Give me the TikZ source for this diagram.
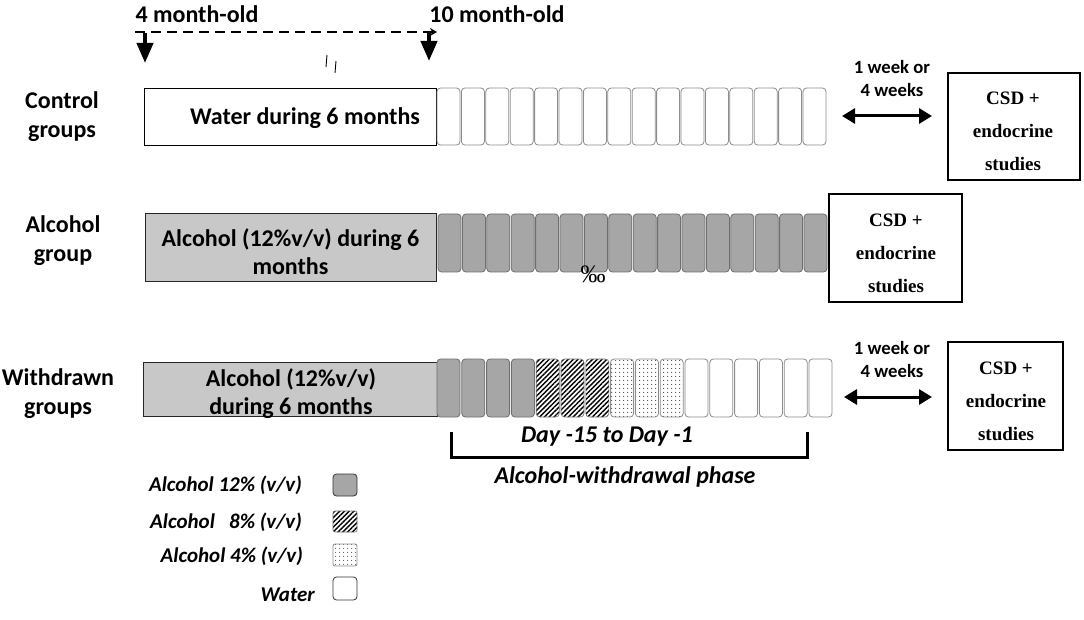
\documentclass[tikz,border=0pt]{standalone}
\usepackage{fontspec}
\setmainfont{Carlito}
\newfontfamily\tnr{Liberation Serif}
\usetikzlibrary{arrows.meta,patterns.meta}
\definecolor{cellgray}{HTML}{A6A6A6}
\definecolor{cellborder}{HTML}{6E6E6E}
\definecolor{boxgray}{HTML}{C8C8C8}
\definecolor{wborder}{HTML}{8C8C8C}
\tikzset{
  lbl/.style={font=\bfseries\fontsize{24}{29}\selectfont, align=center, inner sep=0},
  boxtxt/.style={font=\bfseries\fontsize{24}{28}\selectfont, align=center, inner sep=0},
  small/.style={font=\bfseries\fontsize{18.7}{23}\selectfont, align=center, inner sep=0},
  leg/.style={font=\bfseries\itshape\fontsize{21}{24}\selectfont, inner sep=0, anchor=east},
  csd/.style={draw, line width=1.2pt, inner sep=0},
  csdtxt/.style={font=\tnr\bfseries\fontsize{19}{33}\selectfont, align=center, inner sep=0},
  bigbox/.style={draw, line width=1pt, inner sep=0},
  wcell/.style={draw=wborder, fill=white, rounded corners=3.5pt, minimum width=23pt, inner sep=0, line width=0.8pt},
  gcell/.style={draw=cellborder, fill=cellgray, rounded corners=3.5pt, minimum width=23pt, inner sep=0, line width=0.8pt},
  hcell/.style={draw=cellborder, rounded corners=3.5pt, minimum width=23pt, inner sep=0, line width=0.6pt,
     pattern={Lines[angle=45,distance=3.4pt,line width=1.4pt]}, pattern color=black},
  dcell/.style={draw=wborder, rounded corners=3.5pt, minimum width=23pt, inner sep=0, line width=0.8pt,
     pattern={Dots[radius=0.6pt,distance=4pt]}, pattern color=black},
  downarrow/.style={line width=4pt, -{Triangle[length=20pt,width=16pt]}},
  dblarrow/.style={line width=3pt, {Triangle[length=13pt,width=15pt]}-{Triangle[length=13pt,width=15pt]}},
  ital/.style={font=\bfseries\itshape\fontsize{24}{28}\selectfont, inner sep=0},
}
\begin{document}
\begin{tikzpicture}[x=1pt,y=-1pt]
\useasboundingbox[fill=white] (0,0) rectangle (1084,620);

% timeline
\node[lbl] (t4) at (197,14) {4 month-old};
\node[lbl] (t10) at (497,14) {10 month-old};
\coordinate (da1) at (135,32);
\coordinate (da2) at (437,32);
\draw[line width=2.5pt, dash pattern=on 10pt off 6pt, -{Stealth[length=7pt,width=8pt]}] (da1) -- (da2);
\coordinate (d1s) at (145,33); \coordinate (d1e) at (145,63);
\coordinate (d2s) at (429,33); \coordinate (d2e) at (429,61);
\draw[downarrow] (d1s) -- (d1e);
\draw[downarrow] (d2s) -- (d2e);
\coordinate (m1a) at (327,55); \coordinate (m1b) at (326,67);
\coordinate (m2a) at (336,61); \coordinate (m2b) at (335,73);
\draw[line width=0.9pt] (m1a) -- (m1b);
\draw[line width=0.9pt] (m2a) -- (m2b);

% row labels
\node[lbl] (lc) at (62,117) {Control\\groups};
\node[lbl] (la) at (63,241) {Alcohol\\group};
\node[lbl] (lw) at (58,394) {Withdrawn\\groups};

% control row
\node[bigbox, minimum width=292pt, minimum height=57pt] (bc) at (290,117) {};
\node[lbl] (bct) at (305,118) {Water during 6 months};
\foreach \i in {0,...,15} {
  \node[wcell, minimum height=57pt] (c1-\i) at ({448.5+24.4*\i},116.5) {};
}
\coordinate (a1l) at (842,116); \coordinate (a1r) at (932,116);
\draw[dblarrow] (a1l) -- (a1r);
\node[small] (w1) at (892,79) {1 week or\\4 weeks};
\node[csd, minimum width=132pt, minimum height=107pt] (csd1) at (1014,126.5) {};
\node[csdtxt] (csd1t) at (1013,131) {CSD +\\endocrine\\studies};

% alcohol row
\node[bigbox, fill=boxgray, draw=black!85, minimum width=291pt, minimum height=68pt] (ba) at (290.5,248) {};
\node[boxtxt] (bat) at (290.5,251.5) {Alcohol (12\%v/v) during 6\\months};
\foreach \i in {0,...,15} {
  \node[gcell, minimum height=58pt] (c2-\i) at ({449.5+24.4*\i},243) {};
}
\node[font=\tnr\fontsize{25}{26}\selectfont, inner sep=0] (pm) at (593,274) {‰};
\node[csd, minimum width=133pt, minimum height=108pt] (csd2) at (895.5,248) {};
\node[csdtxt] (csd2t) at (896,253) {CSD +\\endocrine\\studies};

% withdrawn row
\node[bigbox, fill=boxgray, draw=black!85, minimum width=294pt, minimum height=54pt] (bw) at (290,389) {};
\node[boxtxt] (bwt) at (291,393.5) {Alcohol (12\%v/v)\\during 6 months};
\foreach \i in {0,...,3} {
  \node[gcell, minimum height=58pt] (c3-\i) at ({448.5+24.8*\i},388) {};
}
\foreach \i in {4,...,6} {
  \node[hcell, minimum height=58pt] (c3-\i) at ({448.5+24.8*\i},388) {};
}
\foreach \i in {7,...,9} {
  \node[dcell, minimum height=58pt] (c3-\i) at ({448.5+24.8*\i},388) {};
}
\foreach \i in {10,...,15} {
  \node[wcell, minimum height=58pt] (c3-\i) at ({448.5+24.8*\i},388) {};
}
\coordinate (a3l) at (844,397); \coordinate (a3r) at (932,397);
\draw[dblarrow] (a3l) -- (a3r);
\node[small] (w3) at (892,360) {1 week or\\4 weeks};
\node[csd, minimum width=115pt, minimum height=108pt] (csd3) at (1005.5,396) {};
\node[csdtxt] (csd3t) at (1006,401) {CSD +\\endocrine\\studies};

% bracket
\coordinate (br1) at (451,432); \coordinate (br2) at (451,457);
\coordinate (br3) at (807,457); \coordinate (br4) at (807,432);
\draw[line width=3pt] (br1) -- (br2) -- (br3) -- (br4);
\node[ital] (day) at (607,437) {Day -15 to Day -1};
\node[ital] (awp) at (625,477) {Alcohol-withdrawal phase};

% legend
\node[leg] (l1) at (302,485) {Alcohol 12\% (v/v)};
\node[leg] (l2) at (302,522) {Alcohol\ \ \ 8\% (v/v)};
\node[leg] (l3) at (303,556) {Alcohol 4\% (v/v)};
\node[leg] (l4) at (315,595) {Water};
\node[gcell, minimum width=24pt, minimum height=22pt, draw=black!80] (k1) at (345,485) {};
\node[hcell, minimum width=24pt, minimum height=21pt, rounded corners=2pt] (k2) at (345,521.5) {};
\node[dcell, minimum width=24pt, minimum height=22pt, rounded corners=2pt] (k3) at (345,555) {};
\node[wcell, minimum width=24pt, minimum height=23pt, draw=black!80] (k4) at (345,588.5) {};
\end{tikzpicture}
\end{document}
